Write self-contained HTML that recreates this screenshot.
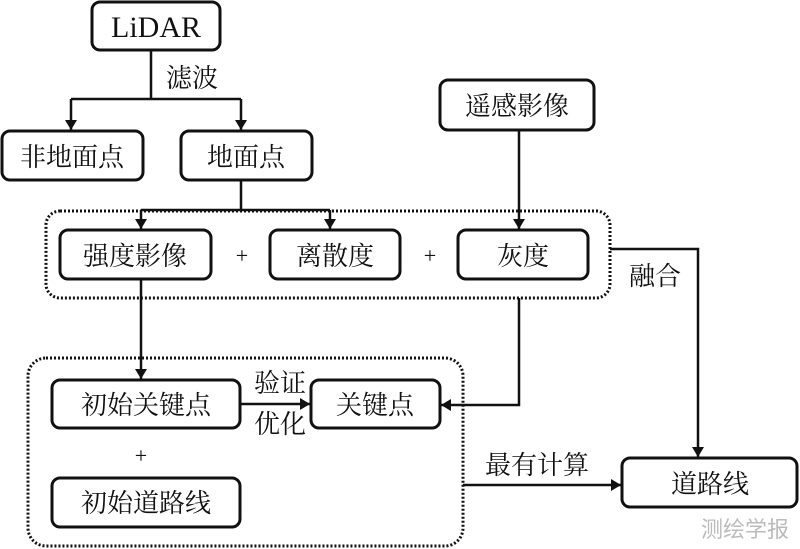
<!DOCTYPE html>
<html><head><meta charset="utf-8"><style>
html,body{margin:0;padding:0;background:#fff;width:800px;height:549px;overflow:hidden}
svg text{font-family:"Liberation Serif","Noto Serif CJK SC",serif;fill:#111}
</style></head><body>
<svg width="800" height="549" viewBox="0 0 800 549" xmlns="http://www.w3.org/2000/svg">
<defs><marker id="a" markerWidth="10" markerHeight="12" refX="10" refY="6" orient="auto" markerUnits="userSpaceOnUse"><path d="M0,0 L10,6 L0,12 Z" fill="#111"/></marker></defs>
<g fill="none" stroke="#111" stroke-width="3">
<rect x="92" y="2" width="128" height="48" rx="8"/>
<rect x="2" y="131" width="141" height="49" rx="8"/>
<rect x="181" y="131" width="131" height="49" rx="8"/>
<rect x="440" y="80" width="154" height="50" rx="8"/>
<rect x="60" y="230" width="151" height="49" rx="8"/>
<rect x="270" y="230" width="130" height="49" rx="8"/>
<rect x="458" y="230" width="130" height="49" rx="8"/>
<rect x="52" y="380" width="188" height="48" rx="8"/>
<rect x="311" y="380" width="129" height="48" rx="8"/>
<rect x="52" y="478" width="188" height="49" rx="8"/>
<rect x="622" y="458" width="175" height="49" rx="8"/>
</g>
<g fill="none" stroke="#111" stroke-width="3" stroke-dasharray="2,2">
<rect x="46" y="211" width="564" height="87" rx="14"/>
<rect x="28" y="358" width="435" height="188" rx="18"/>
</g>
<g fill="none" stroke="#111" stroke-width="2.5">
<path d="M151,50 V99 M71,99 H241"/>
<path d="M71,99 V130" marker-end="url(#a)"/>
<path d="M241,99 V130" marker-end="url(#a)"/>
<path d="M241,180 V210 M141,210 H330"/>
<path d="M141,210 V229" marker-end="url(#a)"/>
<path d="M330,210 V229" marker-end="url(#a)"/>
<path d="M519,130 V229" marker-end="url(#a)"/>
<path d="M141,279 V379" marker-end="url(#a)"/>
<path d="M519,298 V405 H441" marker-end="url(#a)"/>
<path d="M240,404 H310" marker-end="url(#a)"/>
<path d="M610,249 H698 V457" marker-end="url(#a)"/>
<path d="M463,485 H621" marker-end="url(#a)"/>
</g>
<g font-size="26" text-anchor="middle">
<text x="156" y="37" font-size="30">LiDAR</text>
<text x="192" y="87">滤波</text>
<text x="72" y="166">非地面点</text>
<text x="246" y="166">地面点</text>
<text x="517" y="115">遥感影像</text>
<text x="135" y="265">强度影像</text>
<text x="335" y="265">离散度</text>
<text x="523" y="265">灰度</text>
<text x="242" y="263" font-size="22">+</text>
<text x="430" y="263" font-size="22">+</text>
<text x="655" y="285">融合</text>
<text x="146" y="414">初始关键点</text>
<text x="375" y="414">关键点</text>
<text x="280" y="392">验证</text>
<text x="280" y="433">优化</text>
<text x="141" y="463" font-size="22">+</text>
<text x="146" y="512">初始道路线</text>
<text x="537" y="474">最有计算</text>
<text x="710" y="493">道路线</text>
<text x="745" y="537" font-size="22" style="fill:#bbb;font-family:'Noto Sans CJK SC',sans-serif">测绘学报</text>
</g>
</svg>
</body></html>
